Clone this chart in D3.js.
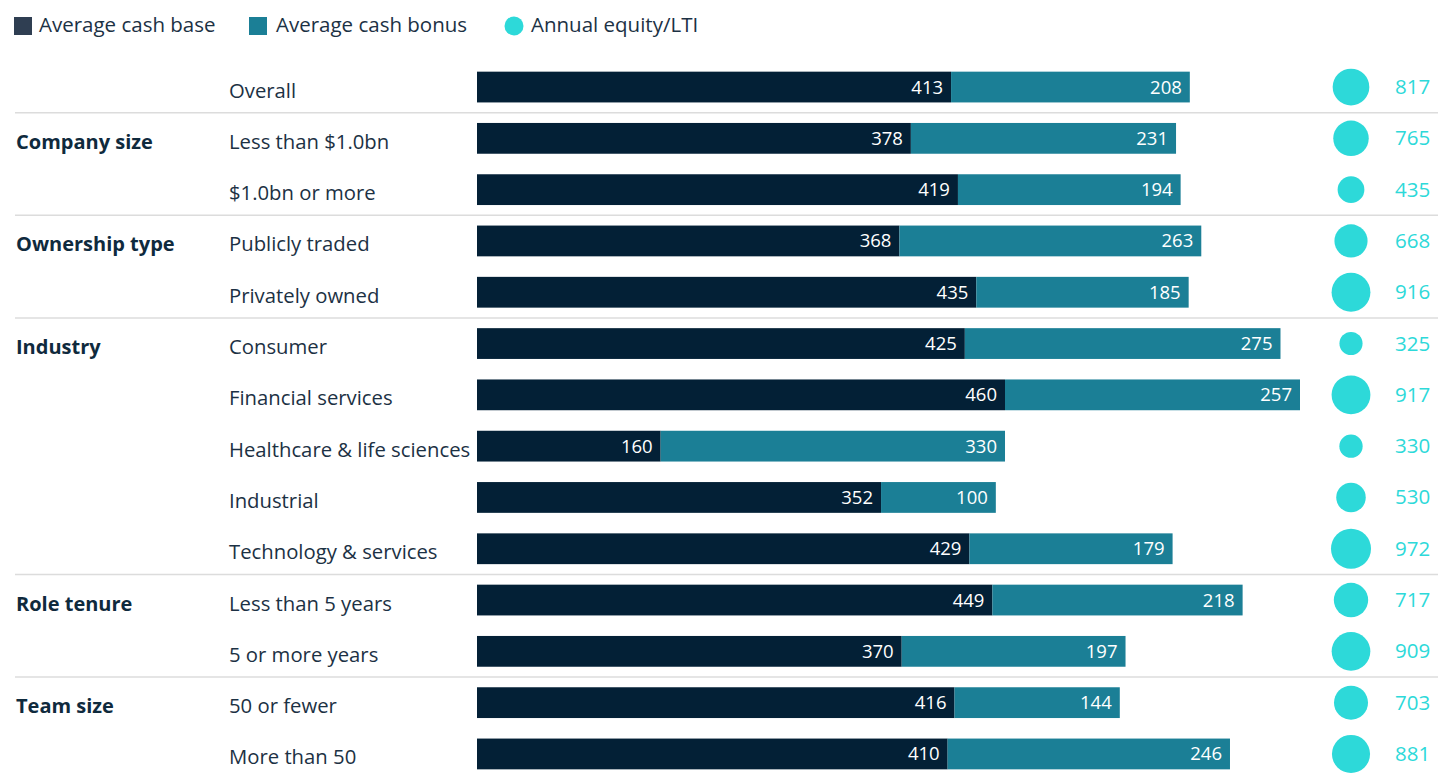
<!DOCTYPE html>
<html>
<head>
<meta charset="utf-8">
<script src="https://cdn.jsdelivr.net/npm/d3@7"></script>
<style>
  body { margin: 0; background: #fff; }
  svg text { font-family: "Open Sans", Lato, sans-serif; }
</style>
</head>
<body>
<svg id="chart"></svg>
<script>
var width = 1438;
var height = 775;

// data
var groups = ["", "Company size", "", "Ownership type", "", "Industry", "", "", "", "", "Role tenure", "", "Team size", ""];
var categories = ["Overall", "Less than $1.0bn", "$1.0bn or more", "Publicly traded", "Privately owned",
  "Consumer", "Financial services", "Healthcare & life sciences", "Industrial", "Technology & services",
  "Less than 5 years", "5 or more years", "50 or fewer", "More than 50"];
var cashBase = [413, 378, 419, 368, 435, 425, 460, 160, 352, 429, 449, 370, 416, 410];
var cashBonus = [208, 231, 194, 263, 185, 275, 257, 330, 100, 179, 218, 197, 144, 246];
// bonus bar lengths as drawn (healthcare bar is drawn shorter than its 330 label)
var cashBonusBar = [208, 231, 194, 263, 185, 275, 257, 300, 100, 177, 218, 195, 144, 246];
var equity = [817, 765, 435, 668, 916, 325, 917, 330, 530, 972, 717, 909, 703, 881];
var separatorsAfter = [0, 2, 4, 9, 11];

var baseColor = "#032036", bonusColor = "#1b7f96", eqColor = "#2dd9d9";

var svg = d3.select("#chart").attr("width", width).attr("height", height);

var x = d3.scaleLinear().domain([0, 717]).range([477, 1300]);
var y = d3.scaleBand().domain(d3.range(categories.length)).range([61.4, 779.6]).paddingInner(0.4).paddingOuter(0.2);
var r = d3.scaleSqrt().domain([0, 972]).range([0, 20]);
var step = y.step();

// legend
var legend = svg.append("g");
legend.append("rect").attr("x", 14).attr("y", 17).attr("width", 18).attr("height", 18).attr("fill", "#2f3e52");
legend.append("text").attr("x", 39).attr("y", 32).text("Average cash base");
legend.append("rect").attr("x", 249).attr("y", 17).attr("width", 18).attr("height", 18).attr("fill", bonusColor);
legend.append("text").attr("x", 276).attr("y", 32).text("Average cash bonus");
legend.append("circle").attr("cx", 514).attr("cy", 26).attr("r", 9.5).attr("fill", eqColor);
legend.append("text").attr("x", 531).attr("y", 32).text("Annual equity/LTI");
legend.selectAll("text").attr("font-size", 20.5).attr("fill", "#1c3144");

// separators
svg.append("g").selectAll("line")
  .data(separatorsAfter)
  .enter().append("line")
  .attr("x1", 15).attr("x2", width)
  .attr("y1", function(d) { return y(d) + y.bandwidth() / 2 + step / 2; })
  .attr("y2", function(d) { return y(d) + y.bandwidth() / 2 + step / 2; })
  .attr("stroke", "#dcdcdc").attr("stroke-width", 1.5);

var rows = svg.append("g").selectAll("g")
  .data(categories)
  .enter().append("g")
  .attr("transform", function(d, i) { return "translate(0," + y(i) + ")"; });

var bh = y.bandwidth();

rows.append("text")
  .attr("x", 16).attr("y", bh / 2 + 10.5)
  .attr("font-size", 20).attr("font-weight", "bold").attr("fill", "#0f2a3d")
  .text(function(d, i) { return groups[i]; });

rows.append("text")
  .attr("x", 229).attr("y", bh / 2 + 10.5)
  .attr("font-size", 20.3).attr("fill", "#1c3144")
  .text(function(d) { return d; });

rows.append("rect")
  .attr("x", x(0)).attr("y", 0).attr("height", bh)
  .attr("width", function(d, i) { return x(cashBase[i]) - x(0); })
  .attr("fill", baseColor);

rows.append("rect")
  .attr("x", function(d, i) { return x(cashBase[i]); }).attr("y", 0).attr("height", bh)
  .attr("width", function(d, i) { return x(cashBase[i] + cashBonusBar[i]) - x(cashBase[i]); })
  .attr("fill", bonusColor);

rows.append("text")
  .attr("x", function(d, i) { return x(cashBase[i]) - 8; })
  .attr("y", bh / 2 + 6.5).attr("text-anchor", "end")
  .attr("font-size", 18.5).attr("fill", "#fff")
  .text(function(d, i) { return cashBase[i]; });

rows.append("text")
  .attr("x", function(d, i) { return x(cashBase[i] + cashBonusBar[i]) - 8; })
  .attr("y", bh / 2 + 6.5).attr("text-anchor", "end")
  .attr("font-size", 18.5).attr("fill", "#fff")
  .text(function(d, i) { return cashBonus[i]; });

rows.append("circle")
  .attr("cx", 1351).attr("cy", bh / 2)
  .attr("r", function(d, i) { return r(equity[i]); })
  .attr("fill", eqColor);

rows.append("text")
  .attr("x", 1395).attr("y", bh / 2 + 7)
  .attr("font-size", 20.5).attr("fill", eqColor)
  .text(function(d, i) { return equity[i]; });
</script>
</body>
</html>
